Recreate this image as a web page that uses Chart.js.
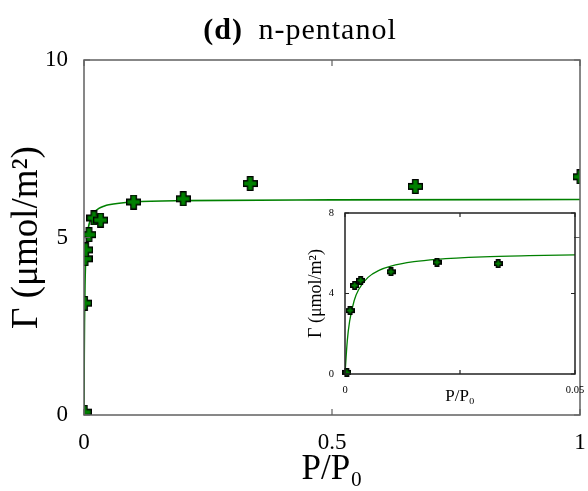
<!DOCTYPE html>
<html>
<head>
<meta charset="utf-8">
<script src="https://cdn.jsdelivr.net/npm/chart.js@4/dist/chart.umd.min.js"></script>
<style>
  body { margin: 0; background: #fff; }
  #wrap { position: relative; width: 588px; height: 491px; }
  #title { position: absolute; top: 12px; left: 0; width: 600px; text-align: center;
           font: 30px "Liberation Serif", serif; letter-spacing: 1px; word-spacing: 7px; color: #000; }
  #mainChart { position: absolute; left: 0; top: 0; }
  #insetBox { position: absolute; left: 300px; top: 203px; width: 288px; height: 205px; }
</style>
</head>
<body>
<div id="wrap">
  <canvas id="mainChart" width="588" height="491"></canvas>
  <div id="title"><b>(d)</b> n-pentanol</div>
  <div id="insetBox"><canvas id="insetChart" width="288" height="205"></canvas></div>
</div>
<script>
// measured adsorption, relative pressure vs surface excess
const pressure = [0.0004, 0.0011, 0.0021, 0.0034, 0.010, 0.020, 0.0333, 0.10, 0.20, 0.335, 0.668, 1.0];
const gamma    = [0.08, 3.15, 4.40, 4.65, 5.08, 5.55, 5.49, 6.00, 6.09, 6.52, 6.44, 6.71];

// fitted isotherm, sampled along the drawn curve
const fitP     = [0, 0.0005, 0.001, 0.002, 0.003, 0.005, 0.0075, 0.01, 0.015, 0.02, 0.03, 0.04, 0.05, 0.1, 0.2, 0.5, 1.0];
const fitGamma = [0, 1.66, 2.61, 3.65, 4.21, 4.80, 5.16, 5.36, 5.58, 5.70, 5.82, 5.88, 5.92, 6.00, 6.04, 6.06, 6.07];

const mainXTicks = [0, 0.5, 1];
const mainYTicks = [0, 5, 10];
const insetXTicks = [0, 0.025, 0.05];
const insetYTicks = [0, 4, 8];

const green = '#008000';
const serif = '"Liberation Serif", "DejaVu Serif", serif';

function makePlus(size, arm, lw) {
  const c = document.createElement('canvas');
  c.width = size; c.height = size;
  const g = c.getContext('2d');
  const m = size / 2, a = arm / 2, r = m - lw / 2;
  g.beginPath();
  g.moveTo(m - a, m - r); g.lineTo(m + a, m - r); g.lineTo(m + a, m - a);
  g.lineTo(m + r, m - a); g.lineTo(m + r, m + a); g.lineTo(m + a, m + a);
  g.lineTo(m + a, m + r); g.lineTo(m - a, m + r); g.lineTo(m - a, m + a);
  g.lineTo(m - r, m + a); g.lineTo(m - r, m - a); g.lineTo(m - a, m - a);
  g.closePath();
  g.fillStyle = green;
  g.fill();
  g.lineWidth = lw;
  g.strokeStyle = '#000';
  g.stroke();
  return c;
}

// box around the plot area with short inward tick marks
function framePlugin(id, xTicks, yTicks, color, tickLen) {
  return {
    id: id,
    afterDraw(chart) {
      const { ctx, chartArea: ca, scales } = chart;
      ctx.save();
      ctx.strokeStyle = color;
      ctx.lineWidth = 1.5;
      ctx.strokeRect(ca.left, ca.top, ca.right - ca.left, ca.bottom - ca.top);
      ctx.lineWidth = 1.2;
      ctx.beginPath();
      xTicks.forEach(v => {
        const px = scales.x.getPixelForValue(v);
        ctx.moveTo(px, ca.top); ctx.lineTo(px, ca.top + tickLen);
        ctx.moveTo(px, ca.bottom); ctx.lineTo(px, ca.bottom - tickLen);
      });
      yTicks.forEach(v => {
        const py = scales.y.getPixelForValue(v);
        ctx.moveTo(ca.left, py); ctx.lineTo(ca.left + tickLen, py);
        ctx.moveTo(ca.right, py); ctx.lineTo(ca.right - tickLen, py);
      });
      ctx.stroke();
      ctx.restore();
    }
  };
}

function fmt(v) {
  return String(v);
}

const points = pressure.map((p, i) => ({ x: p, y: gamma[i] }));
const curve = fitP.map((p, i) => ({ x: p, y: fitGamma[i] }));

new Chart(document.getElementById('mainChart'), {
  type: 'scatter',
  data: {
    datasets: [
      {
        data: curve, showLine: true, borderColor: green, borderWidth: 1.6,
        pointRadius: 0, cubicInterpolationMode: 'monotone', order: 2
      },
      {
        data: points, pointStyle: makePlus(15, 5.5, 1.3), pointRadius: 7, order: 1, clip: 0
      }
    ]
  },
  options: {
    responsive: false, animation: false, events: [],
    layout: { padding: { top: 60, right: 4, left: 0, bottom: 0 } },
    plugins: { legend: { display: false }, tooltip: { enabled: false } },
    scales: {
      x: {
        type: 'linear', min: 0, max: 1,
        afterBuildTicks: s => { s.ticks = mainXTicks.map(v => ({ value: v })); },
        afterFit: s => { s.height = 76; s.paddingRight = 0; s.paddingLeft = 0; },
        grid: { display: false }, border: { display: false },
        ticks: { color: '#000', font: { family: serif, size: 23 }, padding: 6, callback: fmt, maxRotation: 0 },
        title: { display: true, text: 'P/P₀', color: '#000', font: { family: serif, size: 35 }, padding: { top: 0, bottom: 0 } }
      },
      y: {
        min: 0, max: 10,
        afterBuildTicks: s => { s.ticks = mainYTicks.map(v => ({ value: v })); },
        afterFit: s => { s.width = 84; },
        grid: { display: false }, border: { display: false },
        ticks: { color: '#000', font: { family: serif, size: 23 }, padding: 8, callback: fmt },
        title: { display: true, text: 'Γ (μmol/m²)', color: '#000', font: { family: serif, size: 37 }, padding: { top: 5, bottom: 0 } }
      }
    }
  },
  plugins: [framePlugin('mainFrame', mainXTicks, mainYTicks, '#606060', 6)]
});

// zoomed view of the low-pressure region
const insetPoints = points.filter(p => p.x <= 0.05);
const insetCurve = curve.filter(p => p.x <= 0.1);

new Chart(document.getElementById('insetChart'), {
  type: 'scatter',
  data: {
    datasets: [
      {
        data: insetCurve, showLine: true, borderColor: green, borderWidth: 1.3,
        pointRadius: 0, cubicInterpolationMode: 'monotone', order: 2
      },
      {
        data: insetPoints, pointStyle: makePlus(9, 3.4, 1.5), pointRadius: 4.5, order: 1, clip: false
      }
    ]
  },
  options: {
    responsive: false, animation: false, events: [],
    layout: { padding: { top: 10, right: 13, left: 0, bottom: 0 } },
    plugins: { legend: { display: false }, tooltip: { enabled: false } },
    scales: {
      x: {
        type: 'linear', min: 0, max: 0.05,
        afterBuildTicks: s => { s.ticks = insetXTicks.map(v => ({ value: v })); },
        afterFit: s => { s.height = 34; s.paddingRight = 0; s.paddingLeft = 0; },
        grid: { display: false }, border: { display: false },
        ticks: { color: '#000', font: { family: serif, size: 10.5 }, padding: 2, maxRotation: 0,
                 callback: v => (v === 0.025 ? '' : fmt(v)) },
        title: { display: true, text: 'P/P₀', color: '#000', font: { family: serif, size: 17 }, padding: { top: 0, bottom: 1 } }
      },
      y: {
        min: 0, max: 8,
        afterBuildTicks: s => { s.ticks = insetYTicks.map(v => ({ value: v })); },
        afterFit: s => { s.width = 45; },
        grid: { display: false }, border: { display: false },
        ticks: { color: '#000', font: { family: serif, size: 10.5 }, padding: 3, callback: fmt },
        title: { display: true, text: 'Γ (μmol/m²)', color: '#000', font: { family: serif, size: 18 }, padding: { top: 5, bottom: 0 } }
      }
    }
  },
  plugins: [framePlugin('insetFrame', insetXTicks, insetYTicks, '#222', 4)]
});
</script>
</body>
</html>
